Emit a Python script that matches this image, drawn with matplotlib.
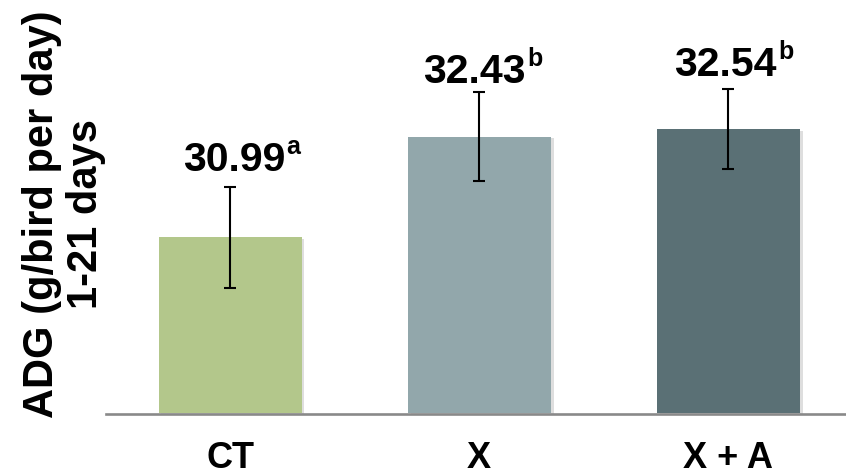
import matplotlib
matplotlib.use("Agg")
import matplotlib.pyplot as plt
import matplotlib.patheffects as pe

# Average daily gain, 1-21 days
categories = ["CT", "X", "X + A"]
adg_means = [30.99, 32.43, 32.54]
adg_se = [0.72, 0.64, 0.57]
letters = ["a", "b", "b"]
bar_colors = ["#B3C78B", "#92A7AB", "#5A7075"]

plt.rcParams["font.family"] = ["Liberation Sans", "DejaVu Sans"]
plt.rcParams["font.weight"] = "bold"

W, H, DPI = 846, 476, 100
fig = plt.figure(figsize=(W / DPI, H / DPI), dpi=DPI)

# axes box in pixels: left 106, right 846, bottom line at y=413.5 (from top)
ax = fig.add_axes([106 / W, (H - 413.5) / H, 740 / W, 413.5 / H])
ax.set_ylim(28.466, 34.39)
ax.set_xlim(-0.498, 2.472)

x = list(range(len(categories)))
bars = ax.bar(x, [m - 28.466 for m in adg_means], bottom=28.466, width=0.574,
              color=bar_colors, zorder=2)
for b in bars:
    b.set_path_effects([
        pe.SimplePatchShadow(offset=(2, -1), shadow_rgbFace="#7f7f7f", alpha=0.25),
        pe.Normal(),
    ])

ax.errorbar(x, adg_means, yerr=adg_se, fmt="none", ecolor="black",
            elinewidth=1.5, capsize=4.2, capthick=1.5, zorder=3)

# value labels with significance superscripts
label_gap = [16.4, 9.0, 13.3]   # pixels between error cap and label baseline
label_dx = [4, -5, -3]          # pixels of horizontal nudge
for xi, m, s, let, gap, dx in zip(x, adg_means, adg_se, letters, label_gap, label_dx):
    num = ax.annotate(f"{m:.2f}", xy=(xi, m + s), xycoords="data",
                      xytext=(dx * 72 / DPI, gap * 72 / DPI), textcoords="offset points",
                      ha="center", va="baseline", fontsize=29.5, fontweight="bold",
                      color="black", zorder=4)
    ax.annotate(let, xy=(1, 0), xycoords=num,
                xytext=(1, 8.9 + 9.0), textcoords="offset points",
                ha="left", va="baseline", fontsize=18, fontweight="bold",
                color="black", zorder=4)

# axis styling: only a gray baseline, no ticks
for side in ["top", "right", "left"]:
    ax.spines[side].set_visible(False)
ax.spines["bottom"].set_color("#898989")
ax.spines["bottom"].set_linewidth(1.9)
ax.spines["bottom"].set_zorder(5)
ax.set_yticks([])
ax.set_xticks(x)
ax.set_xticklabels(categories, fontsize=26, fontweight="bold")
ax.tick_params(axis="x", length=0, pad=20)
ax.patch.set_alpha(0)

fig.text(64 / W, (H - 214) / H, "ADG (g/bird per day)\n1-21 days",
         rotation=90, ha="center", va="center", multialignment="center",
         fontsize=30, fontweight="bold", linespacing=1.15)

fig.savefig("out.png", dpi=DPI, facecolor="white")
